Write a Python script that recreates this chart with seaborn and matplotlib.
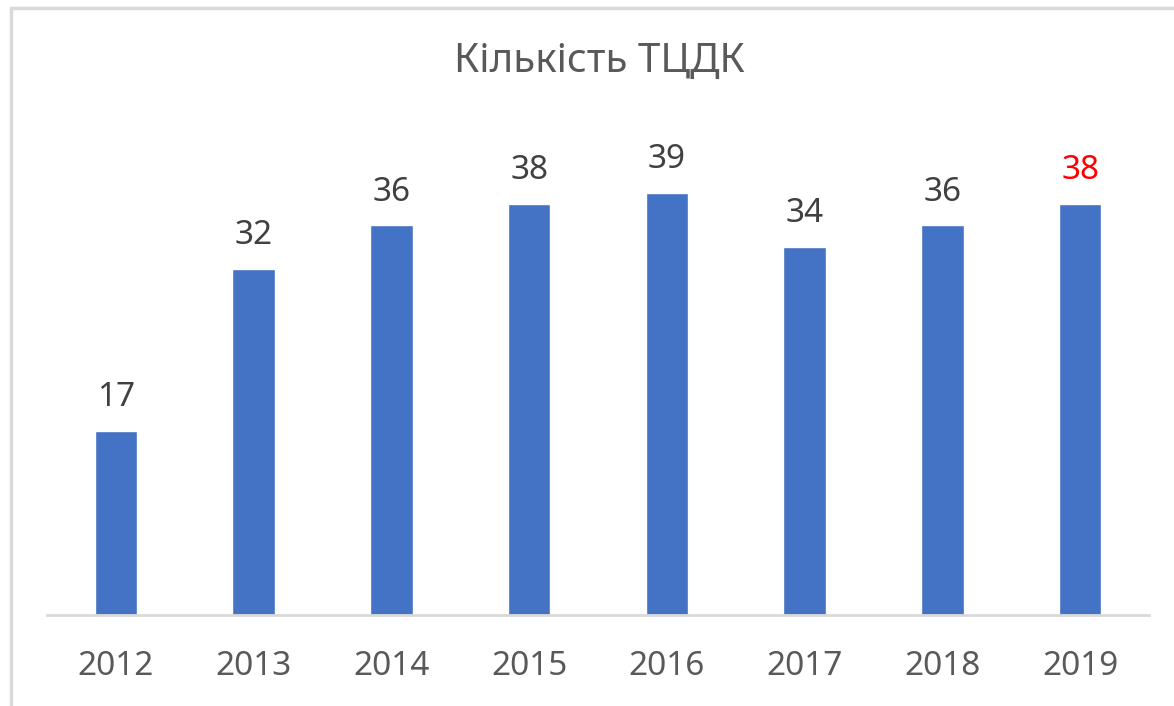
import matplotlib
matplotlib.use("Agg")
import matplotlib.pyplot as plt
import seaborn as sns
import pandas as pd
from matplotlib.lines import Line2D

years = ["2012", "2013", "2014", "2015", "2016", "2017", "2018", "2019"]
counts = [17, 32, 36, 38, 39, 34, 36, 38]
title = "Кількість ТЦДК"

sns.set_theme(style="white")
plt.rcParams["font.family"] = ["Noto Sans", "DejaVu Sans"]

df = pd.DataFrame({"year": years, "count": counts})

fig = plt.figure(figsize=(11.74, 7.06), dpi=100)
ax = fig.add_axes([47 / 1174, 91 / 706, 1102 / 1174, 487 / 706])

sns.barplot(data=df, x="year", y="count", color="#4472C4", saturation=1,
            width=0.31, ax=ax)

ax.set_xlim(-0.5, 7.5)
ax.set_ylim(0, 45)
ax.set_yticks([])
ax.set_xlabel("")
ax.set_ylabel("")
for side in ["top", "right", "left"]:
    ax.spines[side].set_visible(False)
ax.spines["bottom"].set_color("#d9d9d9")
ax.spines["bottom"].set_linewidth(2)
ax.tick_params(axis="x", length=0, pad=25, labelsize=24, labelcolor="#595959")

# value labels, the last one highlighted in red
for i, v in enumerate(counts):
    color = "red" if i == len(counts) - 1 else "#404040"
    ax.annotate(str(v), (i, v), xytext=(0, 12), textcoords="offset points",
                ha="center", va="bottom", fontsize=24, color=color)

fig.text(599 / 1174, 1 - 62 / 706, title, ha="center", va="center",
         fontsize=29, color="#595959")

# chart-area border (only top and left visible in the crop)
fig.add_artist(Line2D([11 / 1174, 11 / 1174], [0, 1 - 7.5 / 706],
                      transform=fig.transFigure, color="#d9d9d9", lw=2.5))
fig.add_artist(Line2D([11 / 1174, 1], [1 - 7.5 / 706, 1 - 7.5 / 706],
                      transform=fig.transFigure, color="#d9d9d9", lw=2.5))

fig.savefig("out.png", dpi=100, facecolor="white")
